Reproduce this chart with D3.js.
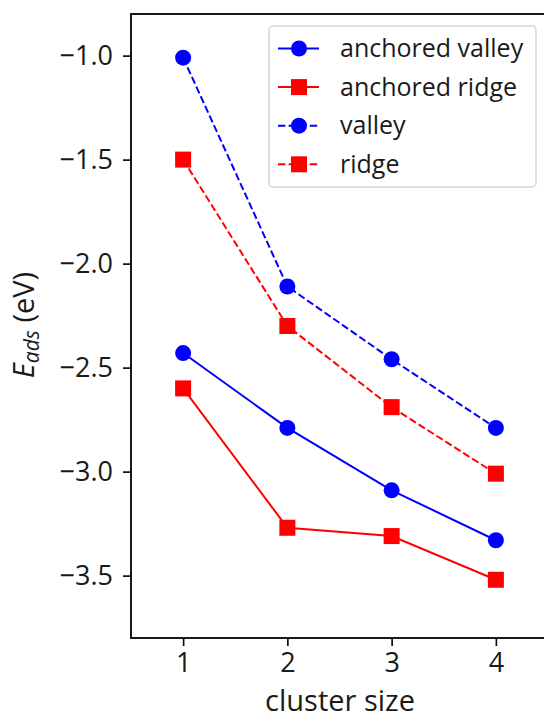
<!DOCTYPE html>
<html>
<head>
<meta charset="utf-8">
<script src="https://cdn.jsdelivr.net/npm/d3@7"></script>
<style>
  body { margin: 0; background: #fff; }
  svg { display: block; font-family: "Open Sans", Lato, sans-serif; }
</style>
</head>
<body>
<div id="chart"></div>
<script>
    // region Data
    const clusterSizes = [1, 2, 3, 4];
    const anchoredValley = [-2.43, -2.79, -3.09, -3.33];
    const anchoredRidge = [-2.60, -3.27, -3.31, -3.52];
    const valley = [-1.01, -2.11, -2.46, -2.79];
    const ridge = [-1.50, -2.30, -2.69, -3.01];
    const yTicks = [-1.0, -1.5, -2.0, -2.5, -3.0, -3.5];
    const seriesNames = ['anchored valley', 'anchored ridge', 'valley', 'ridge'];
    // endregion

    let blue = '#0000ff',
        red = '#ff0000';

    const series = [
        {name: seriesNames[0], values: anchoredValley, color: blue, marker: 'circle', dashed: false},
        {name: seriesNames[1], values: anchoredRidge, color: red, marker: 'square', dashed: false},
        {name: seriesNames[2], values: valley, color: blue, marker: 'circle', dashed: true},
        {name: seriesNames[3], values: ridge, color: red, marker: 'square', dashed: true},
    ];

    let w = 544,
        h = 720,
        mLeft = 131,
        mTop = 14,
        mRight = 548,
        mBottom = 638;

    let svg = d3.select('#chart')
        .append('svg')
        .attr('width', w)
        .attr('height', h);

    const x = d3.scaleLinear()
        .domain([0.5, 4.5])
        .range([mLeft, mRight]);

    const y = d3.scaleLinear()
        .domain([-3.8, -0.8])
        .range([mBottom, mTop]);

    // axes
    let xAxis = svg.append('g')
        .attr('transform', `translate(0, ${mBottom})`)
        .call(d3.axisBottom(x).tickValues(clusterSizes).tickFormat(d3.format('d')).tickSizeOuter(0).tickSize(8).tickPadding(7));

    let yAxis = svg.append('g')
        .attr('transform', `translate(${mLeft}, 0)`)
        .call(d3.axisLeft(y).tickValues(yTicks).tickFormat(d => d3.format('.1f')(d).replace('-', '\u2212')).tickSizeOuter(0).tickSize(8).tickPadding(10));

    [xAxis, yAxis].forEach(a => {
        a.select('.domain').remove();
        a.selectAll('line').attr('stroke', '#000').attr('stroke-width', 1.6);
        a.selectAll('text')
            .attr('fill', '#1a1a1a')
            .style('font-size', '27px')
            .style('font-family', '"Open Sans", sans-serif');
    });

    // spines
    svg.append('rect')
        .attr('x', mLeft)
        .attr('y', mTop)
        .attr('width', mRight - mLeft)
        .attr('height', mBottom - mTop)
        .attr('fill', 'none')
        .attr('stroke', '#000')
        .attr('stroke-width', 1.8);

    // lines and markers
    let line = d3.line()
        .x((d, i) => x(clusterSizes[i]))
        .y(d => y(d));

    function drawMarker(g, shape, color, cx, cy) {
        if (shape === 'circle') {
            g.append('circle')
                .attr('cx', cx)
                .attr('cy', cy)
                .attr('r', 8)
                .attr('fill', color);
        } else {
            g.append('rect')
                .attr('x', cx - 8)
                .attr('y', cy - 8)
                .attr('width', 16)
                .attr('height', 16)
                .attr('fill', color);
        }
    }

    series.forEach(s => {
        svg.append('path')
            .datum(s.values)
            .attr('d', line)
            .attr('fill', 'none')
            .attr('stroke', s.color)
            .attr('stroke-width', 2)
            .attr('stroke-dasharray', s.dashed ? '7.4,3.2' : null);
        let g = svg.append('g');
        s.values.forEach((v, i) => drawMarker(g, s.marker, s.color, x(clusterSizes[i]), y(v)));
    });

    // legend
    let legend = svg.append('g')
        .attr('transform', 'translate(269, 26)');

    legend.append('rect')
        .attr('width', 267)
        .attr('height', 161)
        .attr('rx', 4)
        .attr('fill', '#fff')
        .attr('fill-opacity', 0.8)
        .attr('stroke', '#d6d6d6')
        .attr('stroke-width', 1.5);

    series.forEach((s, i) => {
        let ly = 22.5 + i * 38.6;
        let row = legend.append('g');
        row.append('line')
            .attr('x1', 9)
            .attr('x2', 50)
            .attr('y1', ly)
            .attr('y2', ly)
            .attr('stroke', s.color)
            .attr('stroke-width', 2)
            .attr('stroke-dasharray', s.dashed ? '7.4,3.2' : null);
        drawMarker(row, s.marker, s.color, 30, ly);
        row.append('text')
            .attr('x', 71)
            .attr('y', ly)
            .attr('dy', '0.35em')
            .attr('fill', '#1a1a1a')
            .style('font-size', '25px')
            .text(s.name);
    });

    // axis labels
    svg.append('text')
        .attr('x', 340)
        .attr('y', 711)
        .attr('text-anchor', 'middle')
        .attr('fill', '#1a1a1a')
        .style('font-size', '29px')
        .text('cluster size');

    let yl = svg.append('text')
        .attr('transform', 'translate(34, 325) rotate(-90)')
        .attr('text-anchor', 'middle')
        .attr('fill', '#1a1a1a')
        .style('font-size', '29px');
    yl.append('tspan').style('font-style', 'italic').text('E');
    yl.append('tspan').style('font-style', 'italic').style('font-size', '21px').attr('dy', 5).text('ads');
    yl.append('tspan').attr('dy', -5).text(' (eV)');
</script>
</body>
</html>
